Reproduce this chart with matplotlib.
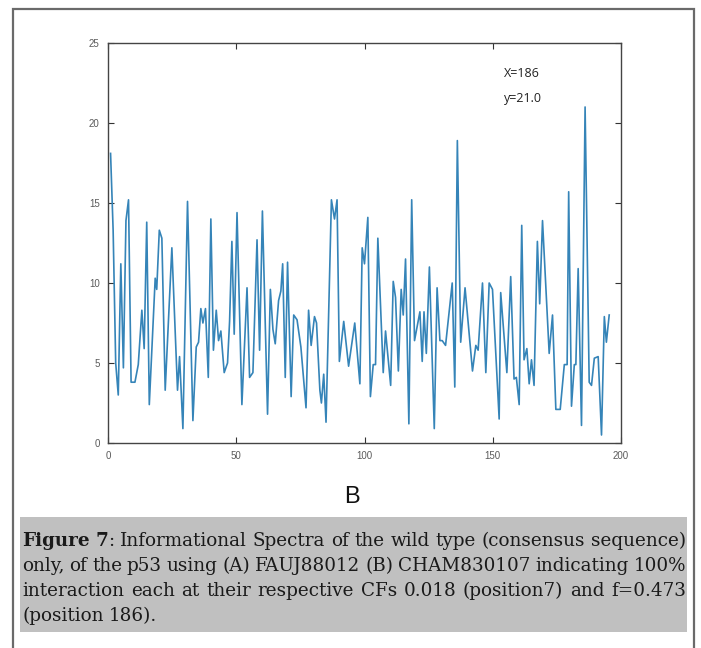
import numpy as np
import matplotlib
matplotlib.use("Agg")
import matplotlib.pyplot as plt
from matplotlib.patches import Rectangle

# Informational spectrum values (position, amplitude)
pos = [1, 2, 3, 4, 5, 6, 7, 8, 9, 10.5, 11.8, 13.2, 14.1, 15.1, 16.1, 18.4, 19, 20, 21, 22.3,
       24.9, 27.1, 27.9, 29.2, 31, 33.1, 34.4, 35.3, 36.2, 37, 38, 39.1, 40.1, 41.1, 42.2, 43.1,
       44, 45.3, 46.6, 47.4, 48.3, 49.2, 50.3, 52.2, 54.2, 55.2, 56.5, 58.1, 59.1, 60.2, 62.2,
       63.3, 64.3, 65.2, 66.5, 67.4, 68.1, 69.1, 70, 71.4, 72.4, 73.7, 75.2, 77.2, 78.2, 79.2,
       80.5, 81.3, 82.6, 83.2, 84.1, 85, 87.1, 88.3, 89.3, 90.2, 91.9, 93.8, 96.2, 98.2, 99.1,
       100, 101.3, 102.3, 103.4, 104.3, 105.2, 107.3, 108.2, 110.2, 111.2, 112.1, 113.2, 114.3,
       115.1, 116, 117.3, 118.4, 119.5, 121.6, 122.5, 123.2, 124.1, 125.3, 127.2, 128.3, 129.4,
       130.3, 131.6, 134.2, 135.2, 136.2, 137.5, 139.2, 142.1, 143.4, 144.3, 146, 147.3, 148.6,
       149.9, 152.5, 153.1, 155.5, 157, 158.3, 159.2, 160.3, 161.3, 162.2, 163.3, 164.2, 165.1,
       166.1, 167.4, 168.3, 169.4, 172, 173.3, 174.6, 176.3, 177.9, 179, 179.6, 180.7, 181.8,
       182.4, 183.3, 184.6, 186, 187.6, 188.5, 189.6, 191.1, 192.4, 193.5, 194.3, 195.4]
amp = [18.1, 13.3, 5.0, 3.0, 11.2, 4.7, 13.9, 15.2, 3.8, 3.8, 4.9, 8.3, 5.9, 13.8, 2.4, 10.3, 9.6, 13.3, 12.8, 3.3,
       12.2, 3.3, 5.4, 0.9, 15.1, 1.4, 6.0, 6.3, 8.4, 7.5, 8.4, 4.1, 14.0, 5.8, 8.3, 6.4,
       7.0, 4.4, 5.0, 7.6, 12.6, 6.8, 14.4, 2.4, 9.7, 4.1, 4.4, 12.7, 5.8, 14.5, 1.8,
       9.6, 7.1, 6.2, 8.9, 9.5, 11.2, 4.1, 11.3, 2.9, 8.0, 7.7, 6.0, 2.2, 8.3, 6.1,
       7.9, 7.5, 3.3, 2.5, 4.3, 1.3, 15.2, 14.0, 15.2, 5.1, 7.6, 4.8, 7.5, 3.7, 12.2,
       11.2, 14.1, 2.9, 4.9, 4.9, 12.8, 4.4, 7.0, 3.6, 10.1, 9.1, 4.5, 9.6,
       8.0, 11.5, 1.2, 15.2, 6.4, 8.2, 5.1, 8.2, 5.6, 11.0, 0.9, 9.7, 6.4,
       6.4, 6.1, 10.0, 3.5, 18.9, 6.3, 9.7, 4.5, 6.1, 5.8, 10.0, 4.4, 10.0,
       9.6, 1.5, 9.4, 4.4, 10.4, 4.0, 4.1, 2.4, 13.6, 5.2, 5.9, 3.7, 5.2,
       3.6, 12.6, 8.7, 13.9, 5.6, 8.0, 2.1, 2.1, 4.9, 4.9, 15.7, 2.3, 4.9,
       4.9, 10.9, 1.1, 21.0, 3.8, 3.6, 5.3, 5.4, 0.5, 7.9, 6.3, 8.0]

xticks = [0, 50, 100, 150, 200]
yticks = [0, 5, 10, 15, 20, 25]

caption = [
    "Figure 7: Informational Spectra of the wild type (consensus sequence)",
    "only, of the p53 using (A) FAUJ88012 (B) CHAM830107 indicating 100%",
    "interaction each at their respective CFs 0.018 (position7) and f=0.473",
    "(position 186).",
]

W, H = 701, 648
fig = plt.figure(figsize=(W / 100, H / 100), dpi=100)

def fx(px):
    return px / W

def fy(py):
    return 1 - py / H

# outer frame and grey caption box
fig.add_artist(Rectangle((fx(13), fy(660)), fx(694) - fx(13), fy(9) - fy(660),
                         transform=fig.transFigure, fill=False, edgecolor="#6a6a6a", lw=1.6))
fig.add_artist(Rectangle((fx(20), fy(632)), fx(687) - fx(20), fy(517) - fy(632),
                         transform=fig.transFigure, facecolor="#c0c0c0", edgecolor="none"))

ax = fig.add_axes([fx(108), fy(443), fx(621) - fx(108), fy(43) - fy(443)])
ax.plot(pos, amp, color="#3584b8", lw=1.2)
ax.set_xlim(0, 200)
ax.set_ylim(0, 25)
ax.set_xticks(xticks)
ax.set_yticks(yticks)
ax.tick_params(direction="in", top=True, right=True, length=4, width=0.8,
               labelsize=7, labelcolor="#5a5a5a", color="#333333", pad=6)
for lab in ax.get_xticklabels() + ax.get_yticklabels():
    lab.set_family("Liberation Sans")
for s in ax.spines.values():
    s.set_color("#444444")
    s.set_linewidth(1.0)

ax.text(0.771, 0.915, "X=186", transform=ax.transAxes, fontsize=9,
        family="Open Sans", color="#222222")
ax.text(0.771, 0.853, "y=21.0", transform=ax.transAxes, fontsize=9,
        family="Open Sans", color="#222222")

fig.text(fx(352), fy(497), "B", fontsize=17, family="Liberation Sans",
         ha="center", va="center", color="#111111")

# justified caption, word by word
renderer = fig.canvas.get_renderer()
x_left, x_right = 22, 686
baselines = [546, 571, 596, 621]
fs = 13.2
for i, line in enumerate(caption):
    words = line.split(" ")
    pieces = []
    for j, w in enumerate(words):
        if i == 0 and j == 0:
            segs = [(w, "bold")]
        elif i == 0 and j == 1:
            segs = [("7", "bold"), (":", "normal")]
        else:
            segs = [(w, "normal")]
        arts = []
        for t, wt in segs:
            a = fig.text(0, fy(baselines[i]), t, fontsize=fs, family="DejaVu Serif",
                         weight=wt, va="baseline", ha="left", color="#1a1a1a")
            arts.append(a)
        pieces.append(arts)
    widths = []
    for arts in pieces:
        widths.append([a.get_window_extent(renderer).width for a in arts])
    total = sum(sum(w) for w in widths)
    if i < len(caption) - 1:
        gap = (x_right - x_left - total) / (len(pieces) - 1)
    else:
        gap = fs * 100 / 72 * 0.3
    x = x_left
    for arts, ws in zip(pieces, widths):
        for a, w in zip(arts, ws):
            a.set_x(fx(x))
            x += w
        x += gap

fig.savefig("out.png", dpi=100)
